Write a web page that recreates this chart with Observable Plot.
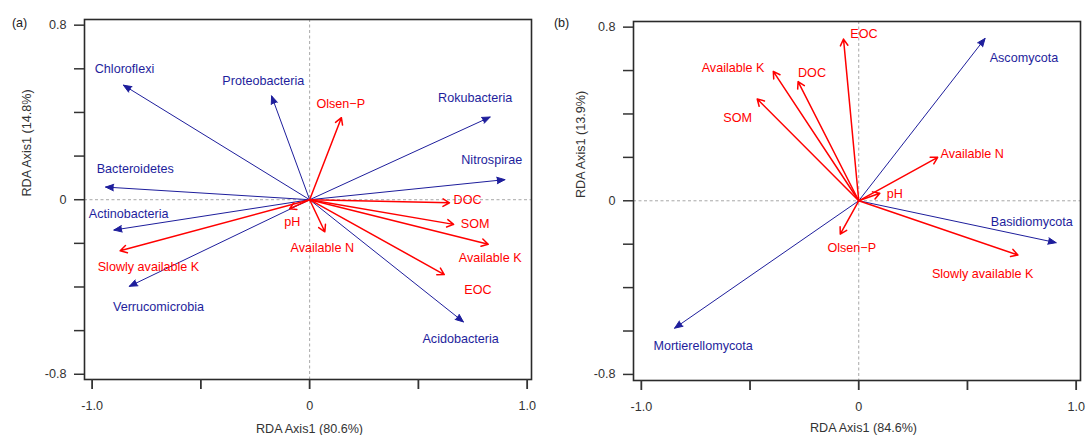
<!DOCTYPE html>
<html><head><meta charset="utf-8">
<script src="https://cdn.jsdelivr.net/npm/d3@7"></script>
<script src="https://cdn.jsdelivr.net/npm/@observablehq/plot@0.6"></script>
<style>
body{margin:0;background:#fff;}
#wrap{display:flex;width:1086px;height:435px;}
</style></head><body><div id="wrap"></div>
<script>
// ---------- Panel (a): bacteria ----------
const bacteriaTaxa   = ["Chloroflexi","Proteobacteria","Rokubacteria","Nitrospirae","Bacteroidetes","Actinobacteria","Verrucomicrobia","Acidobacteria"];
const bacteriaAxis1  = [-0.856,-0.175, 0.830, 0.898,-0.938,-0.900,-0.829, 0.707];
const bacteriaAxis2  = [ 0.525, 0.476, 0.379, 0.092, 0.058,-0.139,-0.397,-0.560];
const bacteriaLabX   = [-0.851,-0.213, 0.761, 0.837,-0.802,-0.832,-0.695, 0.694];
const bacteriaLabY   = [ 0.598, 0.543, 0.467, 0.180, 0.139,-0.064,-0.491,-0.637];

const soilVarsA      = ["Olsen\u2212P","DOC","SOM","Available K","EOC","Available N","pH","Slowly available K"];
const soilAxis1A     = [ 0.146, 0.643, 0.662, 0.821, 0.619, 0.070,-0.092,-0.871];
const soilAxis2A     = [ 0.376,-0.014,-0.113,-0.204,-0.343,-0.147,-0.041,-0.234];
const soilLabXA      = [ 0.143, 0.726, 0.761, 0.830, 0.774, 0.058,-0.080,-0.741];
const soilLabYA      = [ 0.438, 0.001,-0.109,-0.266,-0.412,-0.220,-0.100,-0.308];

// ---------- Panel (b): fungi ----------
const fungiTaxa      = ["Ascomycota","Basidiomycota","Mortierellomycota"];
const fungiAxis1     = [ 0.581, 0.908,-0.847];
const fungiAxis2     = [ 0.748,-0.193,-0.587];
const fungiLabX      = [ 0.760, 0.796,-0.716];
const fungiLabY      = [ 0.657,-0.097,-0.671];

const soilVarsB      = ["EOC","Available K","DOC","SOM","Available N","pH","Slowly available K","Olsen\u2212P"];
const soilAxis1B     = [-0.070,-0.393,-0.279,-0.467, 0.363, 0.097, 0.732,-0.085];
const soilAxis2B     = [ 0.745, 0.596, 0.549, 0.469, 0.200, 0.035,-0.250,-0.154];
const soilLabXB      = [ 0.024,-0.578,-0.215,-0.557, 0.522, 0.166, 0.570,-0.032];
const soilLabYB      = [ 0.768, 0.610, 0.589, 0.382, 0.216, 0.032,-0.339,-0.219];

// ---------- Axes ----------
const xTicks = [-1, -0.5, 0, 0.5, 1];
const xTickLabels = {"-1": "-1.0", "0": "0", "1": "1.0"};
const yTicks = [-0.8, -0.6, -0.4, -0.2, 0, 0.2, 0.4, 0.6, 0.8];
const yTickLabels = {"-0.8": "-0.8", "0": "0", "0.8": "0.8"};
const xTitles = ["RDA Axis1 (80.6%)", "RDA Axis1 (84.6%)"];
const yTitles = ["RDA Axis1 (14.8%)", "RDA Axis1 (13.9%)"];
const panelTags = ["(a)", "(b)"];

const BLUE = "#1e1e9c";
const RED = "#ff0000";

function rows(names, xs, ys, lxs, lys) {
  return names.map((n, i) => ({name: n, x0: 0, y0: 0, x: xs[i], y: ys[i], lx: lxs[i], ly: lys[i]}));
}

function panel(o) {
  return Plot.plot({
    width: 543, height: 435,
    marginLeft: o.ml, marginRight: o.mr, marginTop: o.mt, marginBottom: o.mb,
    x: {domain: o.xDomain, axis: null},
    y: {domain: o.yDomain, axis: null},
    style: {fontFamily: "'Liberation Sans', Arial, sans-serif", fontSize: "12.6px", background: "white", overflow: "visible"},
    marks: [
      Plot.ruleX([0], {stroke: "#a8a8a8", strokeDasharray: "3,2.5"}),
      Plot.ruleY([0], {stroke: "#a8a8a8", strokeDasharray: "3,2.5"}),
      Plot.arrow(o.taxa, {x1: "x0", y1: "y0", x2: "x", y2: "y", stroke: BLUE, fill: BLUE, strokeWidth: 1, headLength: 13, headAngle: 44}),
      Plot.arrow(o.env, {x1: "x0", y1: "y0", x2: "x", y2: "y", stroke: RED, strokeWidth: 1.5, headLength: 7.5, headAngle: 60}),
      Plot.text(o.taxa, {x: "lx", y: "ly", text: "name", fill: BLUE}),
      Plot.text(o.env, {x: "lx", y: "ly", text: "name", fill: RED}),
      Plot.frame({stroke: "#2a2a2a", strokeWidth: 1.6}),
      Plot.axisX(xTicks, {tickSize: 10, tickPadding: 12, strokeWidth: 1.8, color: "#333",
        tickFormat: d => xTickLabels[String(d)] ?? "", label: null}),
      Plot.axisY(yTicks, {tickSize: 10, tickPadding: 8, strokeWidth: 1.5, color: "#333",
        tickFormat: d => yTickLabels[String(d)] ?? "", label: null}),
      Plot.text([o.xTitle], {text: d => d, frameAnchor: "bottom", dx: o.xTitleDx, dy: o.xTitleDy, lineAnchor: "middle", fill: "#333"}),
      Plot.text([o.yTitle], {text: d => d, frameAnchor: "left", dx: o.yTitleDx, dy: -3, rotate: -90, fill: "#333"}),
      Plot.text([o.tag], {text: d => d, frameAnchor: "top-left", textAnchor: "start", lineAnchor: "middle", dx: o.tagDx, dy: o.tagDy, fill: "#222"})
    ]
  });
}

const wrap = document.getElementById("wrap");
wrap.append(panel({
  taxa: rows(bacteriaTaxa, bacteriaAxis1, bacteriaAxis2, bacteriaLabX, bacteriaLabY),
  env: rows(soilVarsA, soilAxis1A, soilAxis2A, soilLabXA, soilLabYA),
  xDomain: [-1.035, 1.02], yDomain: [-0.824, 0.826],
  ml: 84, mr: 12, mt: 19, mb: 56,
  xTitle: xTitles[0], yTitle: yTitles[0], tag: panelTags[0],
  xTitleDx: 1.5, xTitleDy: 49, yTitleDx: -58, tagDx: -72.6, tagDy: 3.7
}));
wrap.append(panel({
  taxa: rows(fungiTaxa, fungiAxis1, fungiAxis2, fungiLabX, fungiLabY),
  env: rows(soilVarsB, soilAxis1B, soilAxis2B, soilLabXB, soilLabYB),
  xDomain: [-1.036, 1.02], yDomain: [-0.828, 0.826],
  ml: 90, mr: 6, mt: 21, mb: 55,
  xTitle: xTitles[1], yTitle: yTitles[1], tag: panelTags[1],
  xTitleDx: 6.5, xTitleDy: 47.5, yTitleDx: -53, tagDx: -79.6, tagDy: 1.7
}));
</script></body></html>
